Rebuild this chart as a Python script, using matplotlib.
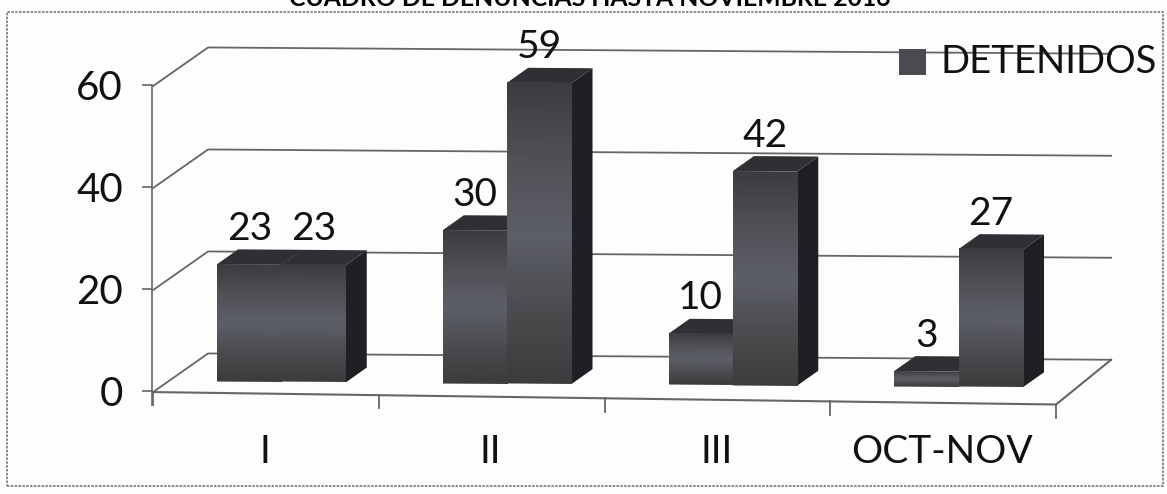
"""Cuadro de denuncias: columnas 3D agrupadas, imitando el grafico escaneado."""

import matplotlib
matplotlib.use("Agg")
import matplotlib.pyplot as plt
import numpy as np
from matplotlib.patches import Polygon, Rectangle
from matplotlib.transforms import Affine2D

plt.rcParams["font.family"] = ["Lato", "DejaVu Sans"]

CATEGORIES = ["I", "II", "III", "OCT-NOV"]
SERIES_FRONT = [23, 30, 10, 3]
SERIES_BACK = [23, 59, 42, 27]
Y_TICKS = [0, 20, 40, 60]
TITLE = "CUADRO DE DENUNCIAS HASTA NOVIEMBRE 2016"
LEGEND_LABEL = "DETENIDOS"

W, H = 1167, 494
INK = "#111111"
GRID = "#666666"
TOP_FACE = "#303034"
SIDE_FACE = "#202024"
FACE_CMAP = matplotlib.colors.LinearSegmentedColormap.from_list(
    "cara", ["#3c3c40", "#505056", "#5d5f68", "#4c4c50", "#3c3c3e"])

# profundidad de la caja 3D, en unidades de datos (x: categorias, y: valores)
PX_X, PX_Y = 225.75, 5.1
WALL_DX, WALL_DY = 55 / PX_X, 39 / PX_Y
BAR_DX, BAR_DY = 21 / PX_X, 15 / PX_Y
BAR_SHIFT_X, BAR_SHIFT_Y = 15.5 / PX_X, 11 / PX_Y
BAR_W = 0.285


def main():
    fig = plt.figure(figsize=(W / 100, H / 100), dpi=100)
    ax = fig.add_axes([152 / W, 1 - 391 / H, (1055 - 152) / W, (391 - 85) / H])
    ax.set_facecolor("none")

    # el escaneo esta ligeramente torcido: cizalla en pixeles de pantalla
    skew = Affine2D.from_values(1, -0.007, 0, 1, 0.007 * 152, 0)
    tr = ax.transData + skew

    gradient = np.linspace(0, 1, 64).reshape(-1, 1)

    # paredes: lineas de la rejilla y suelo
    for val in Y_TICKS:
        ax.plot([0, WALL_DX, 4 + WALL_DX], [val, val + WALL_DY, val + WALL_DY],
                color=GRID, lw=1.3, transform=tr, clip_on=False, zorder=1)
    ax.plot([4 + WALL_DX, 4, 0], [WALL_DY, -1.2, 0], color=GRID, lw=1.5,
            transform=tr, clip_on=False, zorder=1)
    # marcas del eje x, siguiendo el borde inferior
    for i in range(5):
        base = -1.2 * i / 4
        ax.plot([i, i], [base, base - 2.6], color=GRID, lw=1.3, transform=tr,
                clip_on=False, zorder=1)

    for i, (v1, v2) in enumerate(zip(SERIES_FRONT, SERIES_BACK)):
        center = i + 0.5 + BAR_SHIFT_X
        lefts = [center - BAR_W, center]
        # primero la barra mas baja, para que la alta tape su lateral
        order = sorted(range(2), key=lambda k: (v1, v2)[k])
        for k in order:
            val = (v1, v2)[k]
            x0, x1 = lefts[k], lefts[k] + BAR_W
            y0, y1 = BAR_SHIFT_Y, BAR_SHIFT_Y + val
            top = [(x0, y1), (x0 + BAR_DX, y1 + BAR_DY), (x1 + BAR_DX, y1 + BAR_DY), (x1, y1)]
            side = [(x1, y0), (x1 + BAR_DX, y0 + BAR_DY), (x1 + BAR_DX, y1 + BAR_DY), (x1, y1)]
            ax.add_patch(Polygon(side, closed=True, fc=SIDE_FACE, ec="none",
                                 transform=tr, clip_on=False, zorder=3))
            ax.add_patch(Polygon(top, closed=True, fc=TOP_FACE, ec="none",
                                 transform=tr, clip_on=False, zorder=3))
            im = ax.imshow(gradient, cmap=FACE_CMAP, aspect="auto", zorder=3,
                           extent=(x0, x1, y0, y1), origin="upper", clip_on=False)
            im.set_transform(tr)
        for k, val in enumerate((v1, v2)):
            ax.text(lefts[k] + BAR_W / 2, BAR_SHIFT_Y + val + BAR_DY + 4.0, str(val),
                    ha="center", va="center", fontsize=28, color=INK, transform=tr,
                    clip_on=False, zorder=5)

    ax.set_xlim(0, 4)
    ax.set_ylim(0, 60)
    ax.set_yticks(Y_TICKS)
    ax.set_yticklabels([str(t) for t in Y_TICKS], fontsize=29, color=INK)
    ax.tick_params(axis="y", length=7, width=1.2, color=GRID, pad=14)
    ax.set_xticks([i + 0.5 for i in range(4)])
    ax.set_xticklabels(CATEGORIES, fontsize=28, color=INK)
    ax.tick_params(axis="x", length=0, pad=31)
    for name, spine in ax.spines.items():
        spine.set_visible(name == "left")
    ax.spines["left"].set_color(GRID)
    ax.spines["left"].set_linewidth(1.2)
    ax.spines["left"].set_bounds(-2.8, 60)

    # leyenda y titulo en coordenadas de figura
    fig.add_artist(Rectangle((899 / W, 1 - 75 / H), 27 / W, 26 / H, fc="#4a4a50",
                             ec="none", transform=fig.transFigure))
    fig.text(940 / W, 1 - 62 / H, LEGEND_LABEL, fontsize=27.5, color=INK, va="center",
             zorder=6)
    fig.text(590 / W, 1 - 6 / H, TITLE, fontsize=17.8, fontweight="bold", color="#000000",
             ha="center", va="baseline")

    # marco punteado del grafico
    fig.add_artist(Rectangle((7 / W, 1 - 486 / H), 1156 / W, 474 / H, fill=False,
                             ec="#777777", lw=1.2, ls=(0, (1.5, 0.8)),
                             transform=fig.transFigure))

    fig.savefig("out.png", dpi=100, facecolor="#fdfdfd")
    plt.close(fig)


if __name__ == "__main__":
    main()
